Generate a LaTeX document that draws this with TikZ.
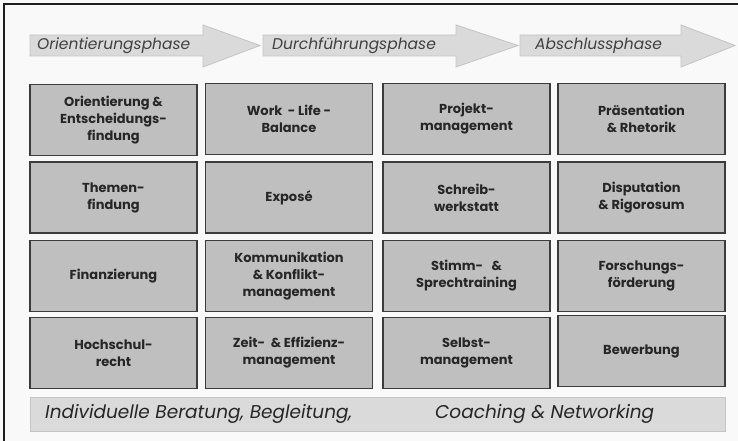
\documentclass[tikz,border=0pt]{standalone}
\usepackage{fontspec}
\setmainfont{Poppins}
\definecolor{bg}{HTML}{F9F9F9}
\definecolor{frameline}{HTML}{1E1E1E}
\definecolor{boxfill}{HTML}{BFBFBF}
\definecolor{boxline}{HTML}{3C3C3C}
\definecolor{arrowfill}{HTML}{DADADA}
\definecolor{arrowline}{HTML}{C4C4C4}
\definecolor{textdark}{HTML}{262626}
\definecolor{phasetext}{HTML}{404040}
\tikzset{
  x=1pt, y=-1pt,
  topic/.style={draw=boxline, fill=boxfill, line width=1.1pt,
    minimum width=167pt, minimum height=71pt, align=center, inner sep=0pt,
    font=\fontsize{13}{17}\selectfont\bfseries, text=textdark},
  phasearrow/.style={draw=arrowline, fill=arrowfill, line width=0.8pt},
  phaselabel/.style={anchor=west, inner sep=0pt, text=phasetext,
    font=\fontsize{15.5}{17}\selectfont\itshape},
  barlabel/.style={anchor=west, inner sep=0pt, text=textdark,
    font=\fontsize{18.5}{20}\selectfont\itshape},
}
\begin{document}
\begin{tikzpicture}
\useasboundingbox (0,0) rectangle (738,441);
\fill[bg] (0,0) rectangle (738,441);
\draw[frameline, line width=1.5pt] (4,441) -- (4,4) -- (738,4);

% phase arrows
\draw[phasearrow] (30,35) -- (203,35) -- (203,25) -- (260,45.5) -- (203,67) -- (203,56) -- (30,56) -- cycle;
\draw[phasearrow] (263,35) -- (456,35) -- (456,25) -- (518,45.5) -- (456,67) -- (456,56) -- (263,56) -- cycle;
\draw[phasearrow] (520,35) -- (681,35) -- (681,25) -- (735,45.5) -- (681,67) -- (681,56) -- (520,56) -- cycle;
\node[phaselabel] (p1) at (37,45.5) {Orientierungsphase};
\node[phaselabel] (p2) at (272,45.5) {Durchführungsphase};
\node[phaselabel] (p3) at (535,45.5) {Abschlussphase};

% row 1
\node[topic] (a1) at (113.5,120) {Orientierung \&\\Entscheidungs-\\findung};
\node[topic] (b1) at (289,119) {Work\ \ - Life -\\Balance};
\node[topic] (c1) at (466.5,119) {Projekt-\\management};
\node[topic] (d1) at (641.5,119) {Präsentation\\\& Rhetorik};
% row 2
\node[topic] (a2) at (113.5,197.5) {Themen-\\findung};
\node[topic] (b2) at (289,197.5) {Exposé};
\node[topic] (c2) at (466.5,197.5) {Schreib-\\werkstatt};
\node[topic] (d2) at (641.5,197.5) {Disputation\\\& Rigorosum};
% row 3
\node[topic] (a3) at (113.5,276) {Finanzierung};
\node[topic] (b3) at (289,276) {Kommunikation\\\& Konflikt-\\management};
\node[topic] (c3) at (466.5,276) {Stimm-\ \ \ \&\\Sprechtraining};
\node[topic] (d3) at (641.5,276) {Forschungs-\\förderung};
% row 4
\node[topic] (a4) at (113.5,353) {Hochschul-\\recht};
\node[topic] (b4) at (289,353) {Zeit-\ \ \& Effizienz-\\management};
\node[topic] (c4) at (466.5,353) {Selbst-\\management};
\node[topic] (d4) at (641.5,351) {Bewerbung};

% bottom bar
\node[draw=arrowline, fill=arrowfill, line width=0.8pt, minimum width=695pt,
  minimum height=34pt, inner sep=0pt] (bar) at (377.5,414) {};
\node[barlabel] (bl) at (45,414) {Individuelle Beratung, Begleitung,};
\node[barlabel] (br) at (435,414) {Coaching \& Networking};
\end{tikzpicture}
\end{document}
